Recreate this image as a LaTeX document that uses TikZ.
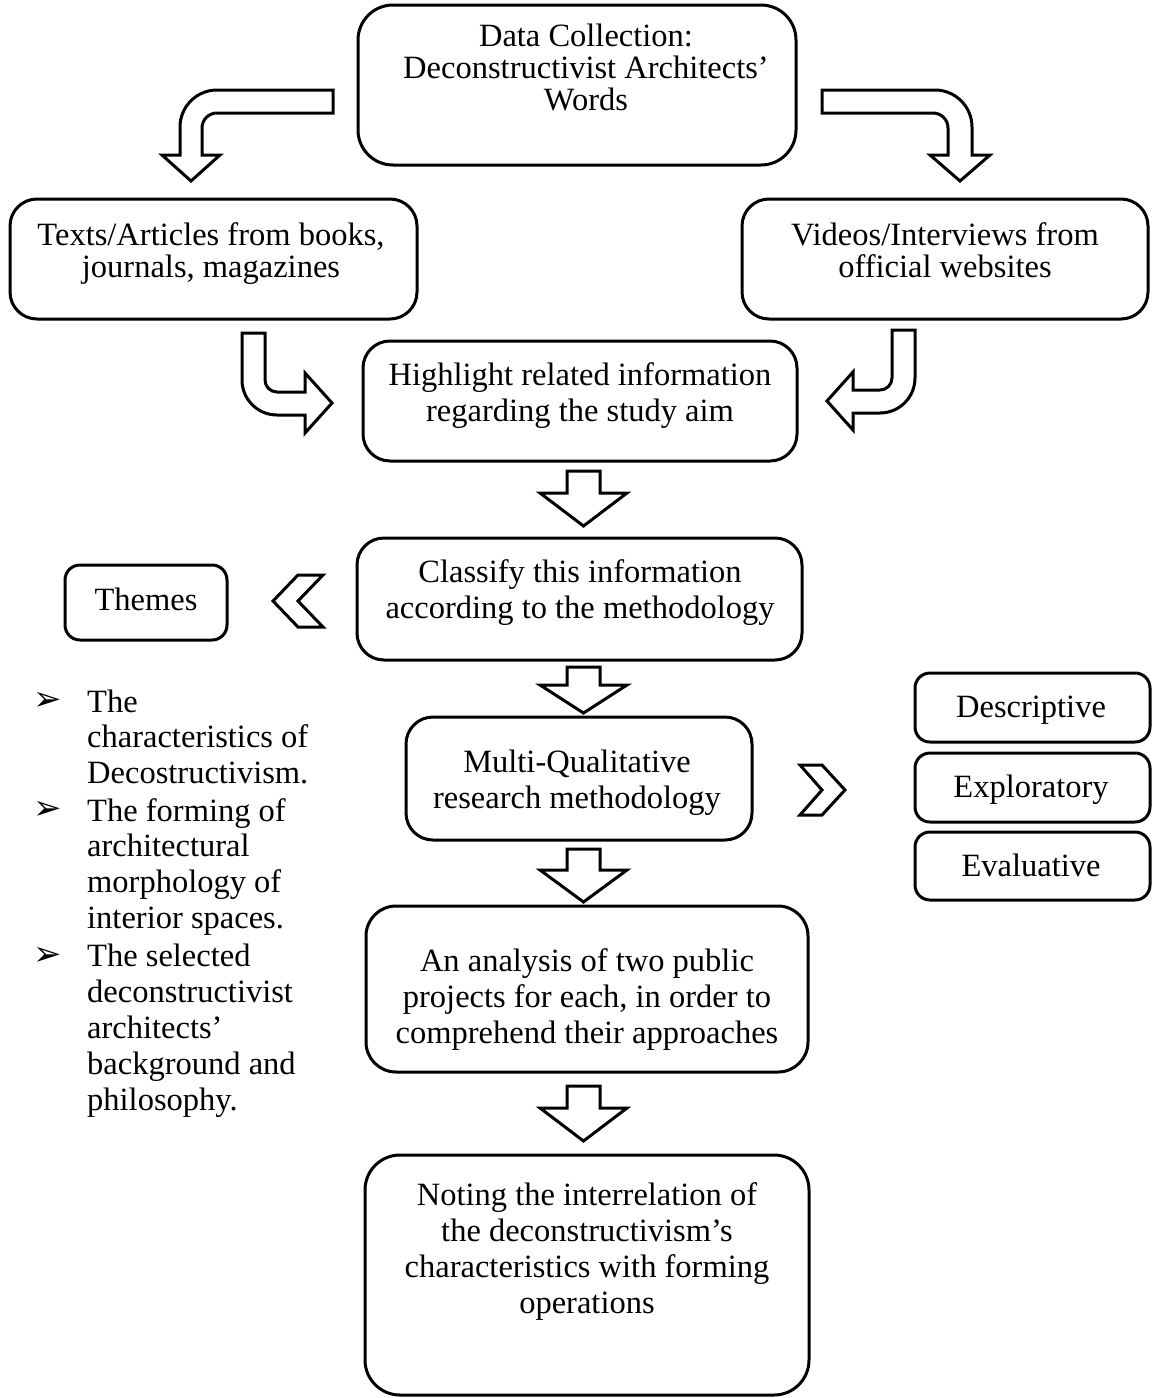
\documentclass[tikz,border=0pt]{standalone}
\usepackage{fontspec}
\setmainfont{Liberation Serif}
\newfontfamily\symfont{DejaVu Sans}
\newcommand\dnarrow[4]{%
  \draw[blk] (#1,#2) ++(-16.5,0) -- ++(33,0) -- ++(0,#3) -- ++(27,0) -- ++(-43.5,#4) -- ++(-43.5,-#4) -- ++(27,0) -- cycle;}
\begin{document}
\begin{tikzpicture}[x=1pt,y=-1pt,
  box/.style={draw, line width=3pt, inner sep=0pt},
  txt/.style={align=center, anchor=base, inner sep=0pt, font=\fontsize{32.5}{36}\selectfont},
  tight/.style={font=\fontsize{32.5}{31.8}\selectfont},
  lst/.style={align=left, anchor=base west, inner sep=0pt, font=\fontsize{32.5}{35.8}\selectfont},
  bul/.style={inner sep=0pt, font=\symfont\fontsize{34}{34}\selectfont},
  blk/.style={draw, line width=3pt, fill=white, line join=miter}]
\useasboundingbox (0,0) rectangle (1153,1398);

% boxes
\node[box, rounded corners=35pt, minimum width=438, minimum height=160] (top) at (577,85) {};
\node[box, rounded corners=27pt, minimum width=407, minimum height=120] (left) at (213.5,259) {};
\node[box, rounded corners=27pt, minimum width=406, minimum height=120] (right) at (945,259) {};
\node[box, rounded corners=27pt, minimum width=434, minimum height=120] (hl) at (580,401) {};
\node[box, rounded corners=27pt, minimum width=445, minimum height=122] (cls) at (579.5,599) {};
\node[box, rounded corners=15pt, minimum width=162, minimum height=75] (themes) at (146,602.5) {};
\node[box, rounded corners=27pt, minimum width=346, minimum height=123] (multi) at (579,778.5) {};
\node[box, rounded corners=15pt, minimum width=235, minimum height=69] (desc) at (1032.5,707.5) {};
\node[box, rounded corners=15pt, minimum width=235, minimum height=69] (expl) at (1032.5,787.5) {};
\node[box, rounded corners=15pt, minimum width=235, minimum height=68] (eval) at (1032.5,866) {};
\node[box, rounded corners=30pt, minimum width=442, minimum height=166] (ana) at (587,989) {};
\node[box, rounded corners=35pt, minimum width=444, minimum height=240] (note) at (587,1275) {};

% texts (anchor = baseline of the last line)
\node[txt, tight] (top-t) at (586,110.5) {Data Collection:\\Deconstructivist Architects’\\Words};
\node[txt, tight] (left-t) at (211,277) {Texts/Articles from books,\\journals, magazines};
\node[txt, tight] (right-t) at (945,277) {Videos/Interviews from\\official websites};
\node[txt] (hl-t) at (580,421) {Highlight related information\\regarding the study aim};
\node[txt] (cls-t) at (580,618) {Classify this information\\according to the methodology};
\node[txt] (themes-t) at (146,610) {Themes};
\node[txt] (multi-t) at (577,808) {Multi-Qualitative\\research methodology};
\node[txt] (desc-t) at (1031,717) {Descriptive};
\node[txt] (expl-t) at (1031,797) {Exploratory};
\node[txt] (eval-t) at (1031,876) {Evaluative};
\node[txt] (ana-t) at (587,1043) {An analysis of two public\\projects for each, in order to\\comprehend their approaches};
\node[txt] (note-t) at (587,1313) {Noting the interrelation of\\the deconstructivism’s\\characteristics with forming\\operations};

% bullet list
\node[bul] (b1) at (47.5,701) {➢};
\node[bul] (b2) at (47.5,810) {➢};
\node[bul] (b3) at (47.5,956) {➢};
\node[lst] (i1) at (87,783.6) {The\\characteristics of\\Decostructivism.};
\node[lst] (i2) at (87,928.4) {The forming of\\architectural\\morphology of\\interior spaces.};
\node[lst] (i3) at (87,1110) {The selected\\deconstructivist\\architects’\\background and\\philosophy.};

% bent arrows
\draw[blk] (333,90) -- (217,90) .. controls (196.6,90) and (180,106.6) .. (180,127) -- (180,155) -- (162,155) -- (191,181) -- (220,155) -- (202,155) -- (202,128) .. controls (202,119.7) and (208.7,113) .. (217,113) -- (333,113) -- cycle;
\draw[blk] (822,90) -- (935,90) .. controls (955.4,90) and (972,106.6) .. (972,127) -- (972,155) -- (990,155) -- (960,181) -- (930,155) -- (948,155) -- (948,128) .. controls (948,119.7) and (941.3,113) .. (933,113) -- (822,113) -- cycle;
\draw[blk] (242,333) -- (265,333) -- (265,380) .. controls (265,386.6) and (270.4,392) .. (277,392) -- (305,392) -- (305,373) -- (332,403) -- (305,433) -- (305,415) -- (277,415) .. controls (257.7,415) and (242,399.3) .. (242,380) -- cycle;
\draw[blk] (892,330) -- (915,330) -- (915,378) .. controls (915,397.3) and (899.3,413) .. (880,413) -- (853,413) -- (853,430) -- (827,401) -- (853,372) -- (853,390) -- (880,390) .. controls (886.6,390) and (892,384.6) .. (892,378) -- cycle;

% down block arrows
\dnarrow{583.5}{471}{22}{33}
\dnarrow{583.5}{667}{18}{28}
\dnarrow{583.5}{849}{21}{32}
\dnarrow{583.5}{1086}{22}{33}

% chevrons
\draw[blk] (273,601) -- (298,575) -- (323,575) -- (298,601) -- (323,627) -- (298,627) -- cycle;
\draw[blk] (800,765) -- (822,765) -- (845,790) -- (822,815) -- (800,815) -- (822,790) -- cycle;
\end{tikzpicture}
\end{document}
